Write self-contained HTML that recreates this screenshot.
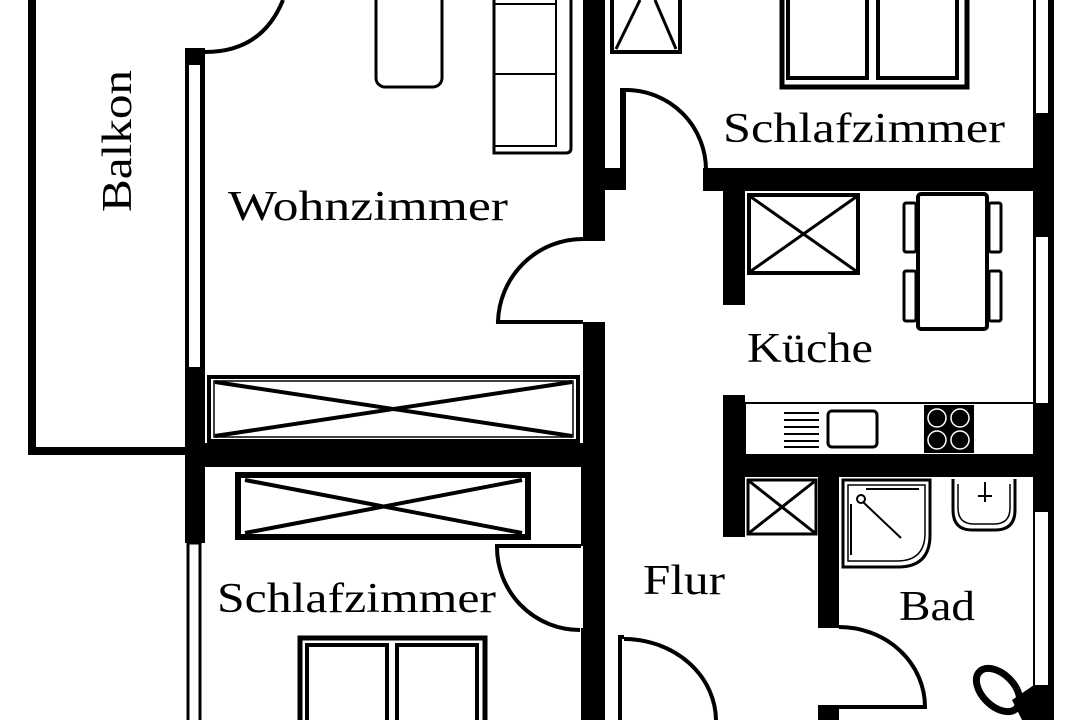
<!DOCTYPE html>
<html><head><meta charset="utf-8"><style>
html,body{margin:0;padding:0;background:#fff;}
svg{display:block;}
text{font-family:"Liberation Serif",serif;fill:#000;}
</style></head><body>
<svg width="1080" height="720" viewBox="0 0 1080 720" xmlns="http://www.w3.org/2000/svg">
<rect width="1080" height="720" fill="#fff"/>
<!-- Balkon -->
<rect x="28" y="-5" width="8" height="460" fill="#000"/>
<rect x="28" y="447" width="160" height="8" fill="#000"/>
<text transform="translate(131,212) rotate(-90)" font-size="42" textLength="142" lengthAdjust="spacingAndGlyphs">Balkon</text>

<!-- Wohnzimmer left wall with window -->
<rect x="185" y="48" width="20" height="412" fill="#000"/>
<rect x="189" y="65" width="11" height="302" fill="#fff"/>
<path d="M205 52 Q262 52 283 0" fill="none" stroke="#000" stroke-width="4"/>
<!-- Wohnzimmer right wall -->
<rect x="583" y="-5" width="22" height="242" fill="#000"/>
<rect x="605" y="168" width="21" height="22" fill="#000"/>
<rect x="583" y="322" width="22" height="326" fill="#000"/>
<path d="M605 239 L583 239 A85 85 0 0 0 498 322 L583 322" fill="none" stroke="#000" stroke-width="4"/>
<!-- Wall between Wohn/Schlaf -->
<rect x="185" y="443" width="420" height="24" fill="#000"/>
<!-- Wohn closet -->
<rect x="209" y="377" width="369" height="64" fill="none" stroke="#000" stroke-width="4"/>
<rect x="214" y="381" width="359" height="56" fill="none" stroke="#000" stroke-width="1.5"/>
<path d="M215 382 L572 436 M215 436 L572 382" stroke="#000" stroke-width="4"/>
<!-- coffee table -->
<rect x="376" y="-10" width="66" height="97" rx="9" fill="none" stroke="#000" stroke-width="3"/>
<!-- sofa -->
<path d="M494 -5 L494 153 L566 153 Q571 153 571 148 L571 -5" fill="none" stroke="#000" stroke-width="3"/>
<path d="M556 -5 L556 147 M494 4 L556 4 M494 74 L556 74 M494 146 L556 146" stroke="#000" stroke-width="2"/>
<text x="228" y="220" font-size="42" textLength="280" lengthAdjust="spacingAndGlyphs">Wohnzimmer</text>

<!-- top middle object -->
<rect x="612" y="-5" width="68" height="57" fill="none" stroke="#000" stroke-width="4"/>
<path d="M616 49 L640 0 M676 49 L655 0" stroke="#000" stroke-width="3"/>
<!-- Schlafzimmer top door -->
<rect x="620" y="88" width="6" height="102" fill="#000"/>
<path d="M626 90 A80 80 0 0 1 706 170" fill="none" stroke="#000" stroke-width="4"/>
<rect x="703" y="168" width="350" height="23" fill="#000"/>
<!-- bed top -->
<rect x="782" y="-5" width="185" height="92" fill="none" stroke="#000" stroke-width="5"/>
<rect x="788" y="-5" width="79" height="83" fill="none" stroke="#000" stroke-width="4"/>
<rect x="878" y="-5" width="79" height="83" fill="none" stroke="#000" stroke-width="4"/>
<text x="723" y="142" font-size="42" textLength="282" lengthAdjust="spacingAndGlyphs">Schlafzimmer</text>
<!-- right exterior wall -->
<rect x="1033" y="-5" width="21" height="730" fill="#000"/>
<rect x="1036" y="-5" width="12" height="118" fill="#fff"/>
<rect x="1036" y="237" width="12" height="166" fill="#fff"/>
<rect x="1035" y="512" width="13" height="173" fill="#fff"/>

<!-- Küche -->
<rect x="723" y="190" width="22" height="115" fill="#000"/>
<rect x="723" y="395" width="22" height="142" fill="#000"/>
<rect x="749" y="195" width="109" height="78" fill="none" stroke="#000" stroke-width="4"/>
<path d="M751 197 L856 271 M751 271 L856 197" stroke="#000" stroke-width="3"/>
<rect x="918" y="194" width="69" height="135" rx="3" fill="none" stroke="#000" stroke-width="4"/>
<g fill="none" stroke="#000" stroke-width="3">
<rect x="904" y="203" width="12" height="49" rx="2"/>
<rect x="904" y="271" width="12" height="50" rx="2"/>
<rect x="989" y="203" width="12" height="49" rx="2"/>
<rect x="989" y="271" width="12" height="50" rx="2"/>
</g>
<text x="747" y="362" font-size="42" textLength="126" lengthAdjust="spacingAndGlyphs">Küche</text>
<rect x="745" y="403" width="289" height="52" fill="none" stroke="#000" stroke-width="2"/>
<path d="M784 413 H819 M784 420 H819 M784 427 H819 M784 434 H819 M784 441 H819 M784 447 H819" stroke="#000" stroke-width="2"/>
<rect x="828" y="411" width="49" height="36" rx="4" fill="none" stroke="#000" stroke-width="3"/>
<rect x="924" y="405" width="50" height="48" fill="#000"/>
<g fill="#000" stroke="#fff" stroke-width="1.5">
<circle cx="937" cy="418" r="9"/><circle cx="960" cy="418" r="9"/>
<circle cx="937" cy="440" r="9"/><circle cx="960" cy="440" r="9"/>
</g>
<rect x="723" y="455" width="311" height="22" fill="#000"/>

<!-- small closet & Bad -->
<rect x="748" y="480" width="68" height="54" fill="none" stroke="#000" stroke-width="3"/>
<path d="M749 481 L815 533 M749 533 L815 481" stroke="#000" stroke-width="3"/>
<rect x="818" y="455" width="21" height="173" fill="#000"/>
<path d="M839 627 A86 80 0 0 1 925 707 L839 707" fill="none" stroke="#000" stroke-width="4"/>
<rect x="818" y="705" width="21" height="20" fill="#000"/>
<!-- shower -->
<path d="M843 480 H930 V535 Q930 567 898 567 H843 Z" fill="none" stroke="#000" stroke-width="3"/>
<path d="M848 485 H925 V533 Q925 561 897 561 H848 Z" fill="none" stroke="#000" stroke-width="1.5"/>
<circle cx="861" cy="499" r="4" fill="none" stroke="#000" stroke-width="2"/>
<path d="M863 502 L901 538 M851 504 V555 M866 489 H919" stroke="#000" stroke-width="2"/>
<!-- sink -->
<path d="M953 479 V510 Q953 530 972 530 H995 Q1015 530 1015 510 V479" fill="none" stroke="#000" stroke-width="3"/>
<path d="M958 484 V508 Q958 524 974 524 H994 Q1010 524 1010 508 V484" fill="none" stroke="#000" stroke-width="1.5"/>
<path d="M985 482 V502 M978 496 H992" stroke="#000" stroke-width="2"/>
<text x="899" y="620" font-size="42" textLength="76" lengthAdjust="spacingAndGlyphs">Bad</text>
<!-- toilet -->
<ellipse cx="998" cy="690" rx="16" ry="26" transform="rotate(-45 998 690)" fill="none" stroke="#000" stroke-width="7"/>
<path d="M1012 700 L1034 685 L1034 720 L1022 720 Z" fill="#000"/>

<!-- Flur and bottom -->
<text x="643" y="594" font-size="42" textLength="82" lengthAdjust="spacingAndGlyphs">Flur</text>
<path d="M620 725 L620 637 L624 637" fill="none" stroke="#000" stroke-width="4"/>
<path d="M624 639 A92 82 0 0 1 716 721" fill="none" stroke="#000" stroke-width="4"/>

<!-- bottom Schlafzimmer -->
<rect x="185" y="443" width="20" height="100" fill="#000"/>
<rect x="188" y="543" width="12" height="180" fill="none" stroke="#000" stroke-width="3"/>
<rect x="581" y="443" width="24" height="103" fill="#000"/>
<rect x="581" y="628" width="24" height="97" fill="#000"/>
<path d="M581 546 L497 546 A83 83 0 0 0 580 630" fill="none" stroke="#000" stroke-width="4"/>
<rect x="238" y="475" width="290" height="62" fill="none" stroke="#000" stroke-width="6"/>
<path d="M245 480 L522 533 M245 533 L522 480" stroke="#000" stroke-width="4"/>
<text x="217" y="612" font-size="42" textLength="279" lengthAdjust="spacingAndGlyphs">Schlafzimmer</text>
<rect x="300" y="638" width="185" height="90" fill="none" stroke="#000" stroke-width="5"/>
<rect x="307" y="645" width="80" height="80" fill="none" stroke="#000" stroke-width="4"/>
<rect x="397" y="645" width="80" height="80" fill="none" stroke="#000" stroke-width="4"/>
</svg>
</body></html>
